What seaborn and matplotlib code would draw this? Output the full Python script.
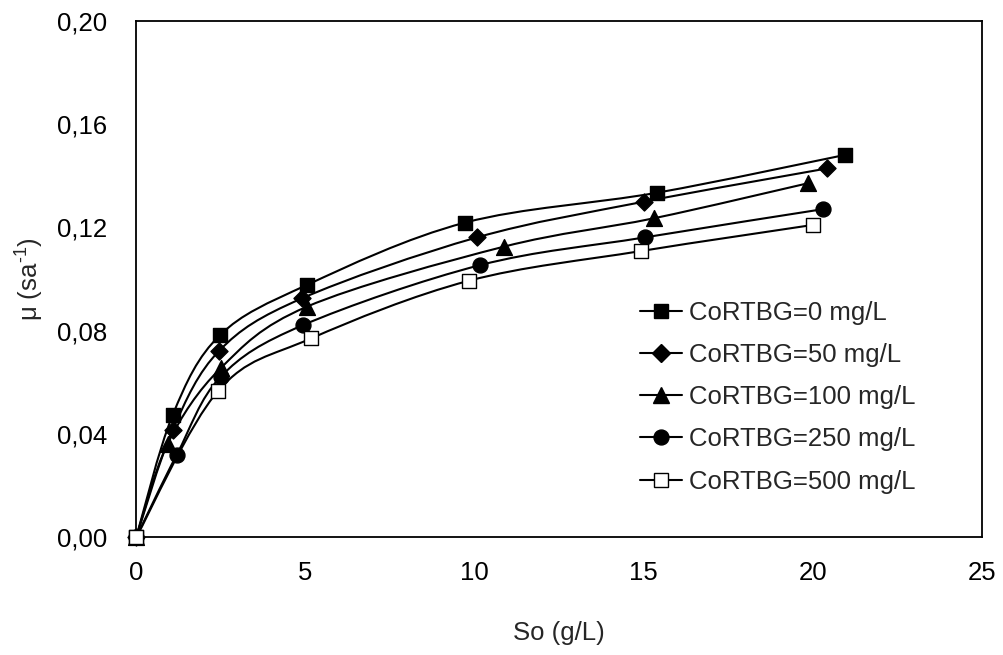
import numpy as np
import pandas as pd
import seaborn as sns
import matplotlib
matplotlib.use("Agg")
import matplotlib.pyplot as plt
from matplotlib.path import Path
from matplotlib.patches import PathPatch
from matplotlib.lines import Line2D

# ---- data ----
labels = ["CoRTBG=0 mg/L", "CoRTBG=50 mg/L", "CoRTBG=100 mg/L",
          "CoRTBG=250 mg/L", "CoRTBG=500 mg/L"]

x_0 = [0, 1.08, 2.48, 5.05, 9.72, 15.41, 20.96]
y_0 = [0, 0.0474, 0.0783, 0.0977, 0.1218, 0.1334, 0.1480]
x_50 = [0, 1.08, 2.46, 4.90, 10.08, 15.01, 20.44]
y_50 = [0, 0.0416, 0.0723, 0.0925, 0.1161, 0.1299, 0.1428]
x_100 = [0, 0.93, 2.50, 5.05, 10.87, 15.31, 19.85]
y_100 = [0, 0.0362, 0.0655, 0.0893, 0.1125, 0.1235, 0.1370]
x_250 = [0, 1.20, 2.50, 4.94, 10.18, 15.04, 20.30]
y_250 = [0, 0.0320, 0.0622, 0.0822, 0.1054, 0.1161, 0.1270]
x_500 = [0, 2.43, 5.17, 9.83, 14.92, 20.00]
y_500 = [0, 0.0568, 0.0770, 0.0993, 0.1108, 0.1209]

xticks = [0, 5, 10, 15, 20, 25]
yticks = [0.00, 0.04, 0.08, 0.12, 0.16, 0.20]
ytick_labels = ["0,00", "0,04", "0,08", "0,12", "0,16", "0,20"]

series = [(x_0, y_0), (x_50, y_50), (x_100, y_100), (x_250, y_250), (x_500, y_500)]
markers = ["s", "D", "^", "o", "s"]
sizes = [115, 75, 130, 115, 112]
faces = ["black", "black", "black", "black", "white"]


def smooth_path(xs, ys):
    # Excel-like smoothed line: Catmull-Rom as cubic Bezier segments
    p = np.column_stack([xs, ys]).astype(float)
    n = len(p)
    verts = [p[0]]
    codes = [Path.MOVETO]
    for i in range(n - 1):
        p0 = p[i - 1] if i > 0 else p[i]
        p3 = p[i + 2] if i + 2 < n else p[i + 1]
        c1 = p[i] + (p[i + 1] - p0) / 6.0
        c2 = p[i + 1] - (p3 - p[i]) / 6.0
        verts += [c1, c2, p[i + 1]]
        codes += [Path.CURVE4] * 3
    return Path(verts, codes)


sns.set_style("white")
plt.rcParams["font.family"] = ["Liberation Sans", "DejaVu Sans"]
plt.rcParams["mathtext.fontset"] = "custom"
plt.rcParams["mathtext.rm"] = "Liberation Sans"
plt.rcParams["mathtext.default"] = "regular"

fig = plt.figure(figsize=(10.04, 6.55), dpi=100)
ax = fig.add_axes([0.1356, 0.1794, 0.8422, 0.7893])

for (xs, ys), m, s, fc in zip(series, markers, sizes, faces):
    ax.add_patch(PathPatch(smooth_path(xs, ys), fill=False, edgecolor="black",
                           lw=1.5, zorder=2))
    df = pd.DataFrame({"x": xs, "y": ys})
    sns.scatterplot(data=df, x="x", y="y", marker=m, s=s, color=fc,
                    edgecolor="black", linewidth=1.0, zorder=3,
                    clip_on=False, ax=ax, legend=False)

ax.set_xlim(0, 25)
ax.set_ylim(0, 0.2)
ax.set_xticks(xticks)
ax.set_yticks(yticks)
ax.set_yticklabels(ytick_labels)
ax.tick_params(direction="in", length=8, width=1.2, labelsize=18.5,
               colors="black", top=False, right=False)
ax.tick_params(axis="x", pad=17)
ax.tick_params(axis="y", pad=21)

for sp in ax.spines.values():
    sp.set_color("black")
    sp.set_linewidth(1.3)

ax.set_xlabel("So (g/L)", fontsize=18.5, labelpad=26)
ax.set_ylabel(r"μ (sa$^{\text{-1}}$)", fontsize=18.5, labelpad=8)

handles = [Line2D([], [], color="black", lw=1.5, marker=m,
                  markersize=np.sqrt(s), markerfacecolor=fc,
                  markeredgecolor="black", markeredgewidth=1.0)
           for m, s, fc in zip(markers, sizes, faces)]
ax.legend(handles, labels, loc="upper left", bbox_to_anchor=(0.596, 0.458),
          frameon=False, fontsize=18.5, handlelength=1.65, handletextpad=0.25,
          labelspacing=0.71, borderpad=0, borderaxespad=0)

fig.savefig("out.png", dpi=100)
